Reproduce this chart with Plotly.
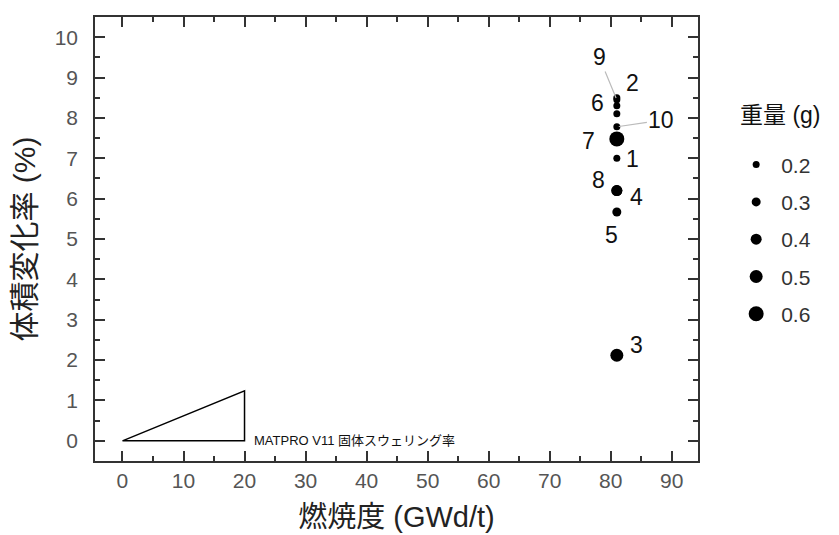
import plotly.graph_objects as go

# Data
burnup = [81, 81, 81, 81, 81, 81, 81, 81, 81, 81, 81]
swelling = [7.0, 8.5, 2.12, 6.2, 5.67, 8.3, 7.48, 6.2, 8.45, 7.78, 8.1]
weight = [0.2, 0.2, 0.5, 0.4, 0.3, 0.2, 0.6, 0.4, 0.2, 0.2, 0.2]
labels = ["1", "2", "3", "4", "5", "6", "7", "8", "9", "10", ""]
label_x = [83.6, 83.6, 84.2, 84.2, 80.1, 77.9, 76.3, 78.0, 78.1, 88.3, None]
label_y = [6.98, 8.86, 2.37, 6.04, 5.10, 8.37, 7.43, 6.45, 9.51, 7.94, None]
leader = [False, False, False, False, False, False, False, False, True, True, False]

legend_weights = [0.2, 0.3, 0.4, 0.5, 0.6]

matpro_x = [0, 20, 20, 0]
matpro_y = [0, 1.24, 0, 0]

FONT = "Arial, 'Liberation Sans', 'Noto Sans CJK JP', sans-serif"


def msize(w):
    return 20 * w + 3


fig = go.Figure()

fig.add_trace(go.Scatter(
    x=matpro_x, y=matpro_y, mode="lines",
    line=dict(color="black", width=1.5), showlegend=False, hoverinfo="skip"))

fig.add_trace(go.Scatter(
    x=burnup, y=swelling, mode="markers",
    marker=dict(size=[msize(w) for w in weight], color="black", opacity=1,
                line=dict(width=0)),
    showlegend=False))

for i, w in enumerate(legend_weights):
    fig.add_trace(go.Scatter(
        x=[None], y=[None], mode="markers", name=f"{w}",
        legendgroup=f"g{i}",
        marker=dict(size=msize(w), color="black", opacity=1)))

annotations = []
for lab, lx, ly, px, py, ld in zip(labels, label_x, label_y, burnup, swelling, leader):
    if not lab:
        continue
    if ld:
        annotations.append(dict(
            x=px, y=py, ax=lx, ay=ly, axref="x", ayref="y", xref="x", yref="y",
            text=lab, showarrow=True, arrowhead=0, arrowwidth=1.2,
            arrowcolor="#bbbbbb", standoff=2, startstandoff=0,
            font=dict(family=FONT, size=23, color="#111")))
    else:
        annotations.append(dict(
            x=lx, y=ly, xref="x", yref="y", text=lab, showarrow=False,
            font=dict(family=FONT, size=23, color="#111")))

annotations.append(dict(
    x=21.3, y=0.02, xref="x", yref="y", text="MATPRO V11 固体スウェリング率",
    showarrow=False, xanchor="left",
    font=dict(family=FONT, size=13, color="#111")))

annotations.append(dict(
    x=1.137, y=0.779, xref="paper", yref="paper", text="重量 (g)",
    showarrow=False, xanchor="center", yanchor="middle",
    font=dict(family=FONT, size=23, color="#111")))

fig.update_layout(
    width=831, height=527,
    margin=dict(l=87, r=141, t=7, b=72),
    paper_bgcolor="white", plot_bgcolor="white",
    font=dict(family=FONT, color="#333"),
    annotations=annotations,
    legend=dict(
        font=dict(size=21, color="#333"),
        x=1.055, xanchor="left", y=0.713, yanchor="top",
        tracegroupgap=7, itemsizing="trace", itemwidth=40,
        bgcolor="rgba(0,0,0,0)"),
)

axis_common = dict(
    showgrid=False, zeroline=False, showline=True, linecolor="#333",
    linewidth=1.5, mirror="ticks", ticks="inside", ticklen=10, tickwidth=1.5,
    tickcolor="#333", tickfont=dict(size=21, color="#555"),
)

fig.update_xaxes(
    range=[-4.5, 94.3], tick0=0, dtick=10,
    minor=dict(ticks="inside", ticklen=5, dtick=5, tickwidth=1.5, tickcolor="#333"),
    title=dict(text="燃焼度 (GWd/t)", font=dict(size=29, color="#222"), standoff=16),
    **axis_common)

fig.update_yaxes(
    range=[-0.5, 10.5], tick0=0, dtick=1,
    minor=dict(ticks="inside", ticklen=5, dtick=0.5, tickwidth=1.5, tickcolor="#333"),
    title=dict(text="体積変化率 (%)", font=dict(size=30, color="#222"), standoff=10),
    ticklabelstandoff=11,
    **axis_common)

fig.write_html("out.html")
